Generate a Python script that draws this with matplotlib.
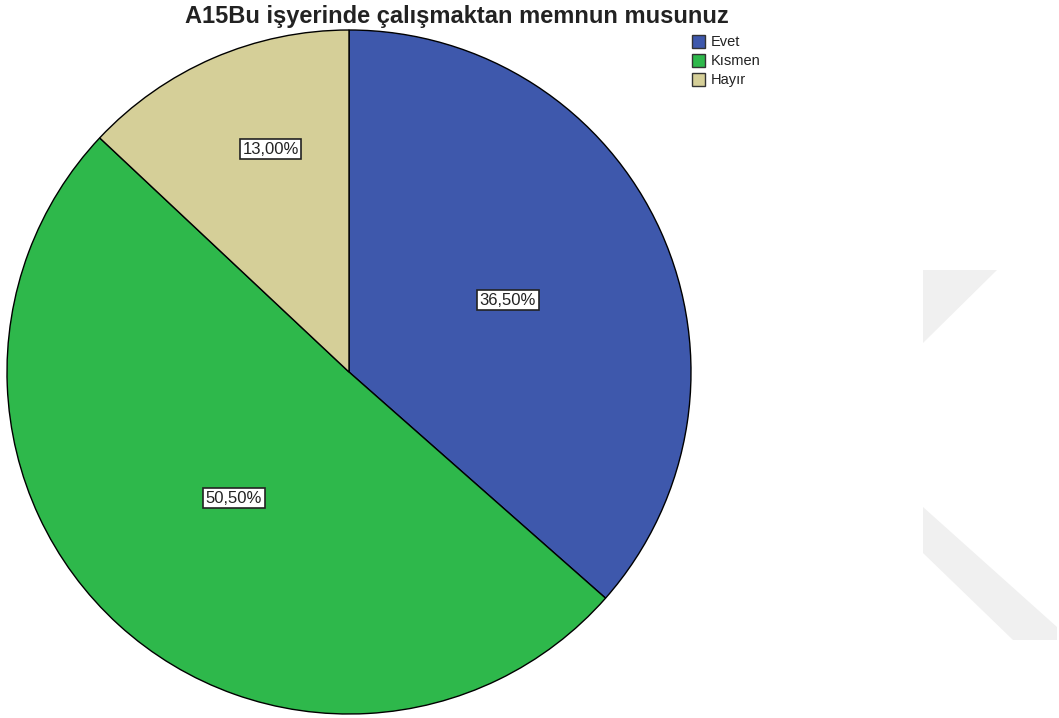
import matplotlib
matplotlib.use("Agg")
import matplotlib.pyplot as plt
from matplotlib.patches import Polygon, Rectangle
import numpy as np

plt.rcParams['font.family'] = ['Liberation Sans', 'DejaVu Sans']

categories = ["Evet", "Kısmen", "Hayır"]
values = [36.5, 50.5, 13.0]
labels = ["36,50%", "50,50%", "13,00%"]
colors = ["#3e58ac", "#2eb84b", "#d5cf98"]
title = "A15Bu işyerinde çalışmaktan memnun musunuz"

W, H = 1059, 718
fig = plt.figure(figsize=(W / 100, H / 100), dpi=100)

# faint watermark in background
wm = "#f0f0f0"
fig.patches.append(Polygon([(923 / W, 1 - 270 / H), (997 / W, 1 - 270 / H), (923 / W, 1 - 343 / H)],
                           closed=True, transform=fig.transFigure, facecolor=wm, edgecolor="none", zorder=0))
fig.patches.append(Polygon([(923 / W, 1 - 507 / H), (1057 / W, 1 - 627 / H), (1057 / W, 1 - 640 / H),
                            (1013 / W, 1 - 640 / H), (923 / W, 1 - 553 / H)],
                           closed=True, transform=fig.transFigure, facecolor=wm, edgecolor="none", zorder=0))

cx, cy, r = 349, 372, 342
ax = fig.add_axes([(cx - r) / W, (H - cy - r) / H, 2 * r / W, 2 * r / H])
ax.set_aspect("equal")
ax.axis("off")
ax.patch.set_alpha(0)

wedges, _ = ax.pie(values, colors=colors, startangle=90, counterclock=False, radius=1.0,
                   wedgeprops=dict(edgecolor="black", linewidth=1.0))
ax.set_xlim(-1, 1)
ax.set_ylim(-1, 1)

dists = [0.51, 0.50, 0.69]
offs = [0, 0, -4]
for w, lab, d, o in zip(wedges, labels, dists, offs):
    ang = np.deg2rad((w.theta1 + w.theta2) / 2 + o)
    ax.text(d * np.cos(ang), d * np.sin(ang), lab, ha="center", va="center", fontsize=12,
            color="#222222",
            bbox=dict(boxstyle="square,pad=0.15", facecolor="white", edgecolor="#222222", linewidth=1.2))

fig.text(457 / W, 1 - 16 / H, title, ha="center", va="center", fontsize=17, fontweight="bold",
         color="#222222")

# legend
for i, (cat, col) in enumerate(zip(categories, colors)):
    y = 41 + i * 19
    fig.patches.append(Rectangle((692 / W, 1 - (y + 6.5) / H), 13 / W, 13 / H, transform=fig.transFigure,
                                 facecolor=col, edgecolor="#333333", linewidth=1.0))
    fig.text(711 / W, 1 - (y + 1) / H, cat, ha="left", va="center", fontsize=10.5, color="#222222")

fig.savefig("out.png", dpi=100)
